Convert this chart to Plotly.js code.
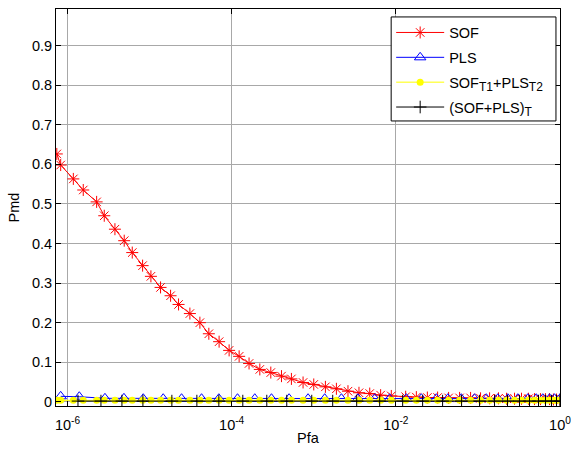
<!DOCTYPE html>
<html>
<head>
<meta charset="utf-8">
<script src="https://cdn.plot.ly/plotly-3.0.1.min.js"></script>
<style>html,body{margin:0;padding:0;background:#fff;}#chart{width:571px;height:450px;}</style>
</head>
<body>
<div id="chart"></div>
<script>
// SOF curve (Pfa, Pmd)
var pfaSOF = [7.41e-7, 8.26e-7, 1.178e-6, 1.556e-6, 2.265e-6, 2.805e-6, 3.784e-6, 4.909e-6, 6.152e-6, 8.222e-6,
  1.038e-5, 1.361e-5, 1.803e-5, 2.254e-5, 3.097e-5, 4.102e-5, 5.272e-5, 7.031e-5, 9.311e-5, 1.233e-4,
  1.629e-4, 2.203e-4, 2.999e-4, 4.046e-4, 5.346e-4, 7.413e-4, 1.0e-3, 1.387e-3, 1.888e-3, 2.612e-3,
  3.556e-3, 4.808e-3, 6.531e-3, 8.810e-3, 1.318e-2, 1.778e-2, 2.421e-2, 3.228e-2, 4.395e-2, 5.98e-2,
  8.14e-2, 0.1077, 0.1387, 0.1782, 0.2234, 0.2793, 0.3396, 0.4130, 0.4887, 0.5781,
  0.6651, 0.7447, 0.8318, 0.9057, 1.0];
var pmdSOF = [0.626, 0.598, 0.563, 0.535, 0.505, 0.470, 0.436, 0.407, 0.377, 0.344,
  0.317, 0.289, 0.268, 0.246, 0.223, 0.200, 0.172, 0.152, 0.130, 0.115,
  0.097, 0.082, 0.074, 0.065, 0.058, 0.049, 0.044, 0.038, 0.033, 0.027,
  0.023, 0.021, 0.017, 0.015, 0.013, 0.012, 0.011, 0.011, 0.010, 0.010,
  0.010, 0.009, 0.009, 0.009, 0.008, 0.008, 0.008, 0.008, 0.007, 0.007,
  0.007, 0.007, 0.006, 0.006, 0.006];

// PLS curve
var pfaPLS = [8.26e-7, 1.392e-6, 2.860e-6, 4.871e-6, 8.366e-6, 1.465e-5, 2.453e-5, 4.297e-5, 6.978e-5, 1.178e-4,
  1.913e-4, 3.055e-4, 5.004e-4, 8.522e-4, 1.360e-3, 2.173e-3, 3.459e-3, 5.524e-3, 8.41e-3, 1.343e-2,
  2.044e-2, 3.112e-2, 4.308e-2, 6.27e-2, 9.10e-2, 0.1264, 0.1749, 0.2314, 0.3063, 0.4053,
  0.5130, 0.6172, 0.7447, 0.8567, 1.0];
var pmdPLS = [0.014, 0.013, 0.009, 0.009, 0.008, 0.008, 0.008, 0.008, 0.008, 0.008,
  0.008, 0.008, 0.008, 0.008, 0.008, 0.008, 0.008, 0.008, 0.008, 0.008,
  0.008, 0.008, 0.008, 0.008, 0.008, 0.008, 0.008, 0.008, 0.008, 0.008,
  0.008, 0.008, 0.008, 0.008, 0.008];

// SOF_T1 + PLS_T2 curve
var pfaFUS = pfaSOF;
var pmdFUS = [0.004, 0.004, 0.004, 0.004, 0.004, 0.004, 0.004, 0.004, 0.004, 0.004,
  0.004, 0.004, 0.004, 0.004, 0.004, 0.004, 0.004, 0.004, 0.004, 0.004,
  0.004, 0.004, 0.004, 0.004, 0.004, 0.004, 0.004, 0.004, 0.004, 0.004,
  0.004, 0.004, 0.004, 0.004, 0.004, 0.004, 0.004, 0.004, 0.004, 0.004,
  0.004, 0.004, 0.004, 0.004, 0.004, 0.004, 0.004, 0.004, 0.004, 0.004,
  0.004, 0.004, 0.004, 0.004, 0.004];

// (SOF+PLS)_T curve
var pfaT = [1.342e-6, 2.556e-6, 4.605e-6, 8.296e-6, 1.869e-5, 3.767e-5, 6.978e-5, 1.367e-4, 2.679e-4, 4.691e-4,
  9.452e-4, 1.702e-3, 3.336e-3, 6.355e-3, 1.211e-2, 2.121e-2, 3.713e-2, 6.324e-2, 0.1047, 0.1594,
  0.2295, 0.3212, 0.4251, 0.5472, 0.6658, 0.7875, 0.9062, 1.0];
var pmdT = [0.002, 0.002, 0.002, 0.002, 0.002, 0.002, 0.002, 0.002, 0.002, 0.002,
  0.002, 0.002, 0.002, 0.002, 0.002, 0.002, 0.002, 0.002, 0.002, 0.002,
  0.002, 0.002, 0.002, 0.002, 0.002, 0.002, 0.002, 0.002];

var xTickVals = [1e-6, 1e-4, 1e-2, 1];
var xTickText = ['10<sup>-6</sup>', '10<sup>-4</sup>', '10<sup>-2</sup>', '10<sup>0</sup>'];
var yTickVals = [0, 0.1, 0.2, 0.3, 0.4, 0.5, 0.6, 0.7, 0.8, 0.9];
var yTickText = ['0', '0.1', '0.2', '0.3', '0.4', '0.5', '0.6', '0.7', '0.8', '0.9'];
var subS = '<span style="font-size:12px">';
var seriesNames = ['SOF', 'PLS',
  'SOF<sub>' + subS + 'T1</span></sub>+PLS<sub>' + subS + 'T2</span></sub>',
  '(SOF+PLS)<sub>' + subS + 'T</span></sub>'];

var traces = [
  {x: pfaSOF, y: pmdSOF, name: seriesNames[0], legendgroup: 'g1', type: 'scatter', mode: 'lines+markers',
   line: {color: '#ff0000', width: 1},
   marker: {symbol: 'asterisk-open', size: 10, color: '#ff0000', line: {color: '#ff0000', width: 1}}},
  {x: pfaPLS, y: pmdPLS, name: seriesNames[1], legendgroup: 'g2', type: 'scatter', mode: 'lines+markers',
   line: {color: '#0000ff', width: 1},
   marker: {symbol: 'triangle-up-open', size: 10, color: '#0000ff', line: {color: '#0000ff', width: 1}}},
  {x: pfaFUS, y: pmdFUS, name: seriesNames[2], legendgroup: 'g3', type: 'scatter', mode: 'lines+markers',
   line: {color: '#ffff00', width: 1},
   marker: {symbol: 'circle', size: 7, color: '#ffff00'}},
  {x: pfaT, y: pmdT, name: seriesNames[3], legendgroup: 'g4', type: 'scatter', mode: 'lines+markers',
   line: {color: '#000000', width: 1},
   marker: {symbol: 'cross-thin-open', size: 9, color: '#000000', line: {color: '#000000', width: 1}}}
];

var fontFam = 'Liberation Sans, Arial, sans-serif';
var fs = 14.5;
var layout = {
  width: 571, height: 450,
  margin: {l: 56, r: 11, t: 9, b: 44, pad: 0},
  paper_bgcolor: '#ffffff', plot_bgcolor: '#ffffff',
  font: {family: fontFam, size: fs, color: '#000000'},
  showlegend: true,
  legend: {x: 0.665, y: 0.981, xanchor: 'left', yanchor: 'top', bgcolor: 'rgba(0,0,0,0)',
           borderwidth: 0, font: {family: fontFam, size: fs, color: '#000'},
           tracegroupgap: 3, itemwidth: 48},
  shapes: [{type: 'rect', xref: 'paper', yref: 'paper', layer: 'above',
            x0: 0.665, x1: 0.992, y0: 0.718, y1: 0.98,
            fillcolor: '#ffffff', line: {color: '#000000', width: 1}}],
  xaxis: {type: 'log', range: [-6.14, 0], tickvals: xTickVals, ticktext: xTickText,
          showgrid: true, gridcolor: '#a8a8a8', gridwidth: 1, zeroline: false,
          showline: true, linecolor: '#000000', linewidth: 1, mirror: 'ticks',
          ticks: 'inside', ticklen: 5, tickcolor: '#000000', ticklabeloverflow: 'allow',
          ticklabelstandoff: 6,
          tickfont: {family: fontFam, size: fs, color: '#000'},
          title: {text: 'Pfa', font: {family: fontFam, size: fs, color: '#000'}, standoff: 0}},
  yaxis: {range: [-0.0104, 0.992], tickvals: yTickVals, ticktext: yTickText,
          showgrid: true, gridcolor: '#a8a8a8', gridwidth: 1, zeroline: false,
          showline: true, linecolor: '#000000', linewidth: 1, mirror: 'ticks',
          ticks: 'inside', ticklen: 5, tickcolor: '#000000',
          tickfont: {family: fontFam, size: fs, color: '#000'},
          title: {text: 'Pmd', font: {family: fontFam, size: fs, color: '#000'}, standoff: 8}}
};

Plotly.newPlot('chart', traces, layout, {displayModeBar: false, staticPlot: true});
</script>
</body>
</html>
